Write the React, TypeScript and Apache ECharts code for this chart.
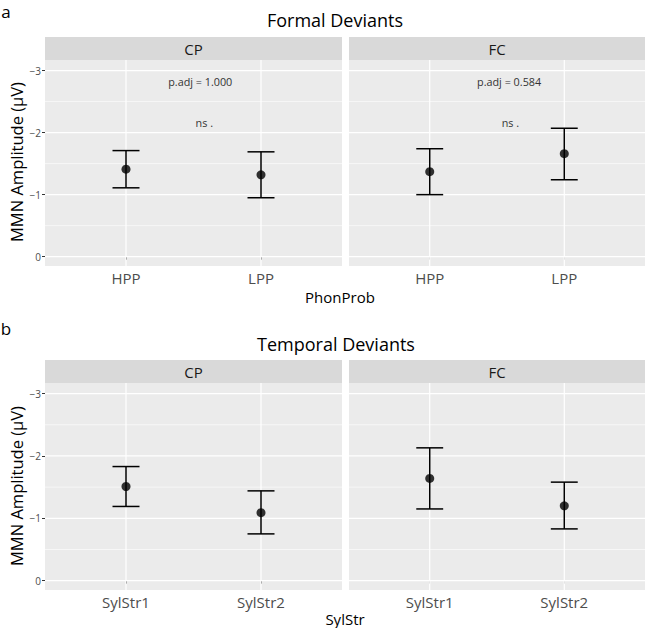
import React, { useEffect, useRef } from 'react';
import * as echarts from 'echarts';

// ---------- data ----------
const facets = ['CP', 'FC'];
const formalCategories = ['HPP', 'LPP'];
const temporalCategories = ['SylStr1', 'SylStr2'];

const formalCPMean = [-1.41, -1.32];
const formalCPUpper = [-1.71, -1.69];
const formalCPLower = [-1.11, -0.95];
const formalFCMean = [-1.37, -1.66];
const formalFCUpper = [-1.74, -2.07];
const formalFCLower = [-1.0, -1.24];

const temporalCPMean = [-1.51, -1.09];
const temporalCPUpper = [-1.83, -1.44];
const temporalCPLower = [-1.19, -0.75];
const temporalFCMean = [-1.64, -1.2];
const temporalFCUpper = [-2.13, -1.58];
const temporalFCLower = [-1.15, -0.83];

const formalPAdj = ['p.adj = 1.000', 'p.adj = 0.584'];
const formalSig = ['ns .', 'ns .'];
const pAdjY = -2.82;
const sigY = -2.17;
const pAdjX = [1.55, 1.59];
const sigX = [1.58, 1.6];

const yTicks = [-3, -2, -1, 0];
const yMinor = [-2.5, -1.5, -0.5];

// ---------- layout ----------
const FONT = "'Open Sans', 'Noto Sans', sans-serif";
const colL = { left: 45, width: 297 };
const colR = { left: 349, width: 296 };
const rowTop = { top: 60, height: 206 };
const rowBot = { top: 383, height: 207 };
const Y_MIN = -3.17;
const Y_MAX = 0.15;

type Panel = {
  col: { left: number; width: number };
  row: { top: number; height: number };
  cats: string[];
  mean: number[];
  upper: number[];
  lower: number[];
  annot: { x: number; y: number; text: string; size: number }[];
};

const panels: Panel[] = [
  {
    col: colL, row: rowTop, cats: formalCategories,
    mean: formalCPMean, upper: formalCPUpper, lower: formalCPLower,
    annot: [
      { x: pAdjX[0], y: pAdjY, text: formalPAdj[0], size: 10.8 },
      { x: sigX[0], y: sigY, text: formalSig[0], size: 10.8 },
    ],
  },
  {
    col: colR, row: rowTop, cats: formalCategories,
    mean: formalFCMean, upper: formalFCUpper, lower: formalFCLower,
    annot: [
      { x: pAdjX[1], y: pAdjY, text: formalPAdj[1], size: 10.8 },
      { x: sigX[1], y: sigY, text: formalSig[1], size: 10.8 },
    ],
  },
  {
    col: colL, row: rowBot, cats: temporalCategories,
    mean: temporalCPMean, upper: temporalCPUpper, lower: temporalCPLower,
    annot: [],
  },
  {
    col: colR, row: rowBot, cats: temporalCategories,
    mean: temporalFCMean, upper: temporalFCUpper, lower: temporalFCLower,
    annot: [],
  },
];

function minusFmt(v: number) {
  if (v === 0) return '0';
  return (v < 0 ? '\u2212' : '') + Math.abs(v);
}

function buildOption() {
  const grid: any[] = [];
  const xAxis: any[] = [];
  const yAxis: any[] = [];
  const series: any[] = [];

  panels.forEach((p, i) => {
    grid.push({
      left: p.col.left, width: p.col.width, top: p.row.top, height: p.row.height,
      show: true, backgroundColor: '#EBEBEB', borderWidth: 0,
    });
    xAxis.push({
      type: 'value', gridIndex: i, min: 0.4, max: 2.6,
      axisLine: { show: false },
      splitLine: { show: false },
      axisTick: { show: true, customValues: [1, 2], length: 3, lineStyle: { color: '#333', width: 1 } },
      axisLabel: {
        customValues: [1, 2],
        formatter: (v: number) => p.cats[Math.round(v) - 1],
        color: '#4D4D4D', fontSize: 15, fontFamily: FONT, margin: 4,
      },
    });
    yAxis.push({
      type: 'value', gridIndex: i, inverse: true, min: Y_MIN, max: Y_MAX,
      axisLine: { show: false },
      splitLine: { show: false },
      axisTick: { show: i % 2 === 0, customValues: yTicks, length: 3, lineStyle: { color: '#333', width: 1 } },
      axisLabel: {
        show: i % 2 === 0,
        customValues: yTicks,
        formatter: (v: number) => minusFmt(v),
        color: '#4D4D4D', fontSize: 10, fontFamily: FONT, margin: 4,
      },
    });

    // horizontal grid lines (major + minor)
    const hData = [
      ...yMinor.map((y) => [1.5, y, 0.6]),
      ...yTicks.map((y) => [1.5, y, 1.2]),
    ];
    series.push({
      type: 'custom', xAxisIndex: i, yAxisIndex: i, z: 1, silent: true, clip: true,
      data: hData,
      renderItem: (params: any, api: any) => {
        const cs = params.coordSys;
        const pt = api.coord([api.value(0), api.value(1)]);
        return {
          type: 'line',
          shape: { x1: cs.x, y1: pt[1], x2: cs.x + cs.width, y2: pt[1] },
          style: { stroke: '#FFFFFF', lineWidth: api.value(2) },
        };
      },
    });
    // vertical grid lines at categories
    series.push({
      type: 'custom', xAxisIndex: i, yAxisIndex: i, z: 1, silent: true, clip: true,
      data: [[1, -1.5], [2, -1.5]],
      renderItem: (params: any, api: any) => {
        const cs = params.coordSys;
        const pt = api.coord([api.value(0), api.value(1)]);
        return {
          type: 'line',
          shape: { x1: pt[0], y1: cs.y, x2: pt[0], y2: cs.y + cs.height },
          style: { stroke: '#FFFFFF', lineWidth: 1.2 },
        };
      },
    });
    // error bars
    series.push({
      type: 'custom', xAxisIndex: i, yAxisIndex: i, z: 3, silent: true,
      data: p.mean.map((_, k) => [k + 1, p.lower[k], p.upper[k]]),
      renderItem: (params: any, api: any) => {
        const x = api.value(0);
        const a = api.coord([x, api.value(1)]);
        const b = api.coord([x, api.value(2)]);
        const half = api.size([0.2, 0])[0] / 2;
        const st = { stroke: '#000000', lineWidth: 1.5 };
        return {
          type: 'group',
          children: [
            { type: 'line', shape: { x1: a[0], y1: a[1], x2: b[0], y2: b[1] }, style: st },
            { type: 'line', shape: { x1: a[0] - half, y1: a[1], x2: a[0] + half, y2: a[1] }, style: st },
            { type: 'line', shape: { x1: b[0] - half, y1: b[1], x2: b[0] + half, y2: b[1] }, style: st },
          ],
        };
      },
    });
    // points
    series.push({
      type: 'scatter', xAxisIndex: i, yAxisIndex: i, z: 4, silent: true,
      symbol: 'circle', symbolSize: 9,
      itemStyle: { color: '#000000' },
      data: p.mean.map((m, k) => [k + 1, m]),
    });
    // annotations
    if (p.annot.length) {
      series.push({
        type: 'custom', xAxisIndex: i, yAxisIndex: i, z: 5, silent: true,
        data: p.annot.map((a) => [a.x, a.y]),
        renderItem: (params: any, api: any) => {
          const a = p.annot[params.dataIndex];
          const pt = api.coord([api.value(0), api.value(1)]);
          return {
            type: 'text', x: pt[0], y: pt[1],
            style: {
              text: a.text, fill: '#333333', fontSize: a.size, fontFamily: FONT,
              align: 'center', verticalAlign: 'middle',
            },
          };
        },
      });
    }
  });

  const stripRect = (col: any, top: number) => ({
    type: 'rect', shape: { x: col.left, y: top, width: col.width, height: 23 },
    style: { fill: '#D9D9D9' }, silent: true,
  });
  const stripText = (col: any, top: number, text: string) => ({
    type: 'text', x: col.left + col.width / 2, y: top + 11.5,
    style: { text, fill: '#1A1A1A', fontSize: 15, fontFamily: FONT, align: 'center', verticalAlign: 'middle' },
    silent: true,
  });
  const txt = (x: number, y: number, text: string, size: number, extra: any = {}) => ({
    type: 'text', x, y,
    style: { text, fill: '#000000', fontSize: size, fontFamily: FONT, align: 'center', verticalAlign: 'middle' },
    silent: true, ...extra,
  });

  const graphic: any[] = [
    txt(6, 11, 'a', 17),
    txt(6, 328, 'b', 17),
    txt(335, 20, 'Formal Deviants', 18),
    txt(336, 344, 'Temporal Deviants', 18),
    stripRect(colL, 37), stripRect(colR, 37),
    stripRect(colL, 360), stripRect(colR, 360),
    stripText(colL, 37, facets[0]), stripText(colR, 37, facets[1]),
    stripText(colL, 360, facets[0]), stripText(colR, 360, facets[1]),
    txt(340, 297, 'PhonProb', 15),
    txt(345, 619, 'SylStr', 15),
    txt(16, 162, 'MMN Amplitude (\u00B5V)', 16.5, { rotation: Math.PI / 2 }),
    txt(16, 486, 'MMN Amplitude (\u00B5V)', 16.5, { rotation: Math.PI / 2 }),
  ];

  return {
    animation: false,
    backgroundColor: '#FFFFFF',
    textStyle: { fontFamily: FONT },
    grid, xAxis, yAxis, series, graphic,
  };
}

export default function App() {
  const ref = useRef<HTMLDivElement>(null);
  useEffect(() => {
    if (!ref.current) return;
    const chart = echarts.init(ref.current, undefined, { renderer: 'svg' });
    chart.setOption(buildOption() as any);
    return () => chart.dispose();
  }, []);
  return (
    <div
      ref={ref}
      style={{ position: 'absolute', left: 0, top: 0, width: 647, height: 628 }}
    />
  );
}
